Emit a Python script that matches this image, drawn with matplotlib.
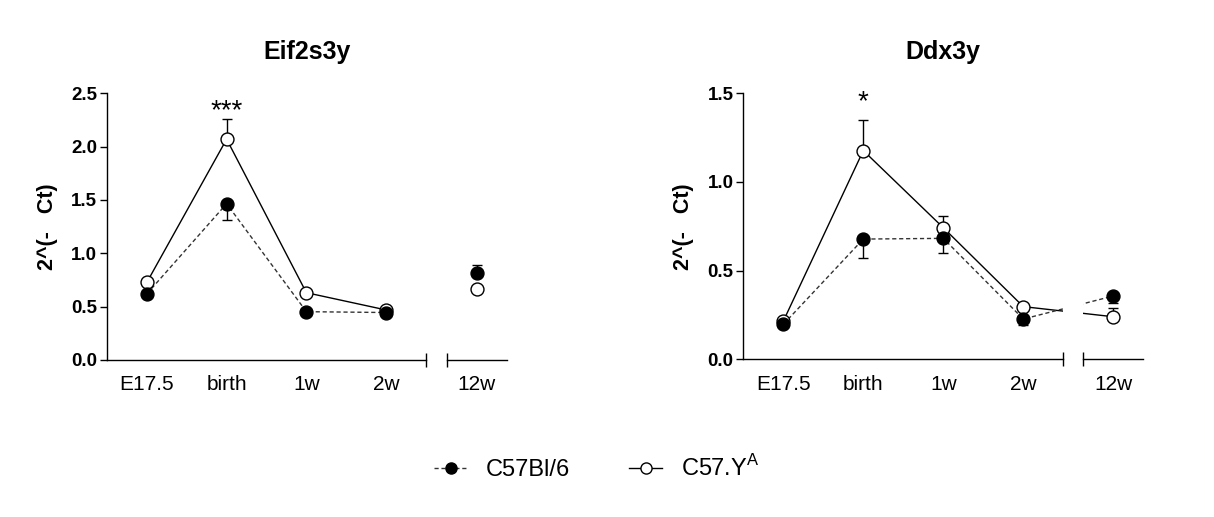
import numpy as np
import matplotlib
matplotlib.use('Agg')
import matplotlib.pyplot as plt
from matplotlib.lines import Line2D

plt.rcParams['font.family'] = ['Liberation Sans', 'DejaVu Sans']

# ---------------- data ----------------
timepoints = ['E17.5', 'birth', '1w', '2w', '12w']
series_names = ['C57Bl/6', 'C57.Y$^{\\mathregular{A}}$']
ylabel_text = '2^(-   Ct)'

# Eif2s3y
eif_b6 = [0.62, 1.465, 0.453, 0.445, 0.815]
eif_b6_lo = [0.02, 0.15, 0.01, 0.01, 0.0]
eif_b6_hi = [0.0, 0.0, 0.0, 0.0, 0.075]
eif_ya = [0.728, 2.07, 0.631, 0.469, 0.663]
eif_ya_lo = [0.0, 0.0, 0.0, 0.0, 0.0]
eif_ya_hi = [0.02, 0.19, 0.02, 0.01, 0.01]
eif_sig = ['', '***', '', '', '']
eif_sig_y = 2.27

# Ddx3y
ddx_b6 = [0.197, 0.678, 0.682, 0.227, 0.357]
ddx_b6_lo = [0.01, 0.105, 0.082, 0.034, 0.041]
ddx_b6_hi = [0.0, 0.0, 0.0, 0.0, 0.0]
ddx_ya = [0.215, 1.177, 0.742, 0.297, 0.240]
ddx_ya_lo = [0.0, 0.0, 0.0, 0.0, 0.0]
ddx_ya_hi = [0.01, 0.17, 0.066, 0.02, 0.048]
ddx_sig = ['', '*', '', '', '']
ddx_sig_y = 1.41

W, H = 1214, 517
fig = plt.figure(figsize=(W / 100, H / 100), dpi=100)


def px_rect(x0, x1, ytop, ybot):
    return [x0 / W, 1 - ybot / H, (x1 - x0) / W, (ybot - ytop) / H]


def panel(main_px, brk_px, title, ymax, b6, b6_lo, b6_hi, ya, ya_lo, ya_hi,
          sig, sig_y, connect_last):
    axm = fig.add_axes(px_rect(*main_px))
    axb = fig.add_axes(px_rect(*brk_px), sharey=axm)
    n = len(timepoints)
    main_lim = (-0.5, n - 1.5)
    brk_lim = (n - 1.25, n - 0.5)
    x = np.arange(n, dtype=float)
    x[-1] = np.mean(brk_lim)

    for ax in (axm, axb):
        ax.errorbar(x, ya, yerr=[ya_lo, ya_hi], fmt='none', ecolor='black',
                    elinewidth=1, capsize=3.6, capthick=1, zorder=2)
        ax.errorbar(x, b6, yerr=[b6_lo, b6_hi], fmt='none', ecolor='black',
                    elinewidth=1, capsize=3.6, capthick=1, zorder=2)
        m = n if connect_last else n - 1
        ax.plot(x[:m], ya[:m], '-', color='black', lw=1, zorder=3)
        ax.plot(x[:m], b6[:m], '--', color='#333333', lw=1, dashes=(3, 2), zorder=3)
        ax.plot(x, ya, 'o', ms=9.3, mfc='white', mec='black', mew=1, zorder=4)
        ax.plot(x, b6, 'o', ms=9.3, mfc='black', mec='black', mew=1, zorder=5)

    for i, s in enumerate(sig):
        if s:
            axm.text(x[i], sig_y, s, ha='center', va='baseline', fontsize=20)

    axm.set_xlim(*main_lim)
    axb.set_xlim(*brk_lim)
    axm.set_ylim(0, ymax)

    for sp in ('top', 'right'):
        axm.spines[sp].set_visible(False)
    for sp in ('top', 'right', 'left'):
        axb.spines[sp].set_visible(False)
    for ax in (axm, axb):
        ax.spines['bottom'].set_linewidth(1)
    axm.spines['left'].set_linewidth(1)

    yt = np.arange(0, ymax + 0.01, 0.5)
    axm.set_yticks(yt)
    axm.set_yticklabels(['%.1f' % v for v in yt], fontsize=13.5, fontweight='bold')
    axm.tick_params(axis='y', length=5, width=1, pad=2)
    axb.tick_params(axis='y', left=False, labelleft=False)

    axm.set_xticks(x[:-1])
    axm.set_xticklabels(timepoints[:-1], fontsize=15)
    axb.set_xticks([x[-1]])
    axb.set_xticklabels(timepoints[-1:], fontsize=15)
    for ax in (axm, axb):
        ax.tick_params(axis='x', which='major', length=0, pad=11)
        ax.tick_params(axis='x', which='minor', length=10, width=1, direction='inout')
    axm.set_xticks([main_lim[1]], minor=True)
    axb.set_xticks([brk_lim[0]], minor=True)

    axm.set_ylabel(ylabel_text, fontsize=15.5, fontweight='bold')
    axm.yaxis.label.set_va('center')
    axm.yaxis.set_label_coords(-60 / (main_px[1] - main_px[0]), 0.5)

    xc = (main_px[0] + brk_px[1]) / 2 / W
    fig.text(xc, 1 - 52 / H, title, ha='center', va='center',
             fontsize=18, fontweight='bold')


panel((107, 426, 93.3, 360), (447, 507, 93.3, 360), 'Eif2s3y', 2.5,
      eif_b6, eif_b6_lo, eif_b6_hi, eif_ya, eif_ya_lo, eif_ya_hi,
      eif_sig, eif_sig_y, False)
panel((743.3, 1063.3, 93.3, 359.3), (1083.3, 1143.3, 93.3, 359.3), 'Ddx3y', 1.5,
      ddx_b6, ddx_b6_lo, ddx_b6_hi, ddx_ya, ddx_ya_lo, ddx_ya_hi,
      ddx_sig, ddx_sig_y, True)

handles = [
    Line2D([], [], color='#333333', ls='--', dashes=(3, 2), lw=1, marker='o', ms=8,
           mfc='black', mec='black'),
    Line2D([], [], color='black', ls='-', lw=1, marker='o', ms=8,
           mfc='white', mec='black'),
]
fig.legend(handles, series_names, loc='center', bbox_to_anchor=(597 / W, 1 - 468 / H),
           ncol=2, frameon=False, fontsize=17, handlelength=1.4,
           handletextpad=0.8, columnspacing=2.5)

fig.savefig('out.png', dpi=100)
